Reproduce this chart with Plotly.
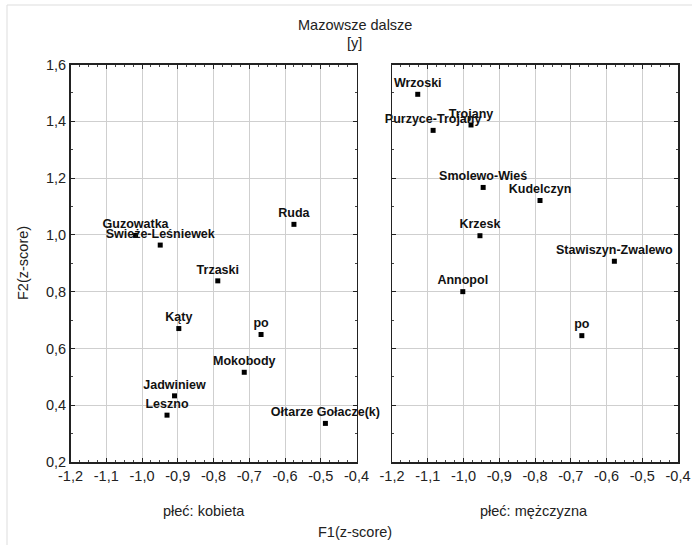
import plotly.graph_objects as go

# Data: women (płeć: kobieta)
f_names = ["Ruda", "Guzowatka", "Świeże-Leśniewek", "Trzaski", "Kąty", "po",
           "Mokobody", "Jadwiniew", "Leszno", "Ołtarze Gołacze(k)"]
f_x = [-0.575, -1.018, -0.949, -0.788, -0.897, -0.667, -0.714, -0.909, -0.930, -0.487]
f_y = [1.037, 0.998, 0.964, 0.838, 0.670, 0.649, 0.516, 0.433, 0.365, 0.336]

# Data: men (płeć: mężczyzna)
m_names = ["Wrzoski", "Purzyce-Trojany", "Trojany", "Smolewo-Wieś", "Kudelczyn",
           "Krzesk", "Stawiszyn-Zwalewo", "Annopol", "po"]
m_x = [-1.128, -1.085, -0.979, -0.945, -0.786, -0.954, -0.578, -1.002, -0.669]
m_y = [1.495, 1.368, 1.387, 1.167, 1.121, 0.997, 0.907, 0.800, 0.645]

x_ticks = [-1.2, -1.1, -1.0, -0.9, -0.8, -0.7, -0.6, -0.5, -0.4]
x_tick_labels = ["-1,2", "-1,1", "-1,0", "-0,9", "-0,8", "-0,7", "-0,6", "-0,5", "-0,4"]
y_ticks = [0.2, 0.4, 0.6, 0.8, 1.0, 1.2, 1.4, 1.6]
y_tick_labels = ["0,2", "0,4", "0,6", "0,8", "1,0", "1,2", "1,4", "1,6"]

W, H = 692, 545
FONT = "Liberation Sans, Arial, sans-serif"

fig = go.Figure()
for xs, ys, names, xa, ya in [(f_x, f_y, f_names, "x", "y"), (m_x, m_y, m_names, "x2", "y2")]:
    fig.add_trace(go.Scatter(
        x=xs, y=ys, text=names, mode="markers+text", xaxis=xa, yaxis=ya,
        textposition="top center",
        marker=dict(symbol="square", size=5, color="black"),
        textfont=dict(family=FONT, size=12.5, color="#111", weight="bold"),
        showlegend=False, cliponaxis=False))

def px_x(p):
    return p / W

def px_y(p):
    return (H - p) / H

ydom = [px_y(462), px_y(64.5)]
common_x = dict(range=[-1.2, -0.4], tickvals=x_ticks, ticktext=x_tick_labels,
                showgrid=True, gridcolor="#cfcfcf", gridwidth=1, zeroline=False,
                showline=True, linecolor="#222", linewidth=1.5, mirror="allticks",
                ticks="inside", ticklen=4, tickcolor="#222", ticklabeloverflow="allow",
                minor=dict(dtick=0.025, tick0=-1.2, ticks="inside", ticklen=2, tickcolor="#444", showgrid=False),
                tickfont=dict(family=FONT, size=14.5, color="#222"), automargin=False, fixedrange=True)
common_y = dict(range=[0.2, 1.6], tickvals=y_ticks, ticktext=y_tick_labels, domain=ydom,
                showgrid=True, gridcolor="#cfcfcf", gridwidth=1, zeroline=False,
                showline=True, linecolor="#222", linewidth=1.5, mirror="allticks",
                ticks="inside", ticklen=4, tickcolor="#222", ticklabeloverflow="allow",
                minor=dict(dtick=0.1, tick0=0.2, ticks="inside", ticklen=2, tickcolor="#444", showgrid=False),
                tickfont=dict(family=FONT, size=14.5, color="#222"), automargin=False, fixedrange=True)

def ann(text, x, y, size=14.5, angle=0):
    return dict(text=text, x=px_x(x), y=px_y(y), xref="paper", yref="paper",
                xanchor="center", yanchor="middle", showarrow=False, textangle=angle,
                font=dict(size=size, family=FONT, color="#222"))

fig.update_layout(
    width=W, height=H, margin=dict(l=0, r=0, t=0, b=0),
    paper_bgcolor="white", plot_bgcolor="white", separators=", ",
    font=dict(family=FONT, color="#222"),
    xaxis=dict(common_x, domain=[px_x(70.5), px_x(356.5)], anchor="y"),
    yaxis=dict(common_y, anchor="x"),
    xaxis2=dict(common_x, domain=[px_x(392), px_x(678)], anchor="y2"),
    yaxis2=dict(common_y, anchor="x2", showticklabels=False),
    shapes=[dict(type="rect", xref="paper", yref="paper", x0=px_x(7), x1=px_x(700),
                 y0=px_y(560), y1=px_y(5), line=dict(color="#dddddd", width=1))],
    annotations=[
        ann("Mazowsze dalsze", 355, 25),
        ann("[y]", 355, 43),
        ann("F2(z-score)", 23, 263, angle=-90),
        ann("F1(z-score)", 355, 532),
        ann("płeć: kobieta", 204, 511),
        ann("płeć: mężczyzna", 534, 511),
    ],
)

fig.write_html("out.html", config={"displayModeBar": False, "staticPlot": True},
               post_script="document.body.style.margin='0';")
